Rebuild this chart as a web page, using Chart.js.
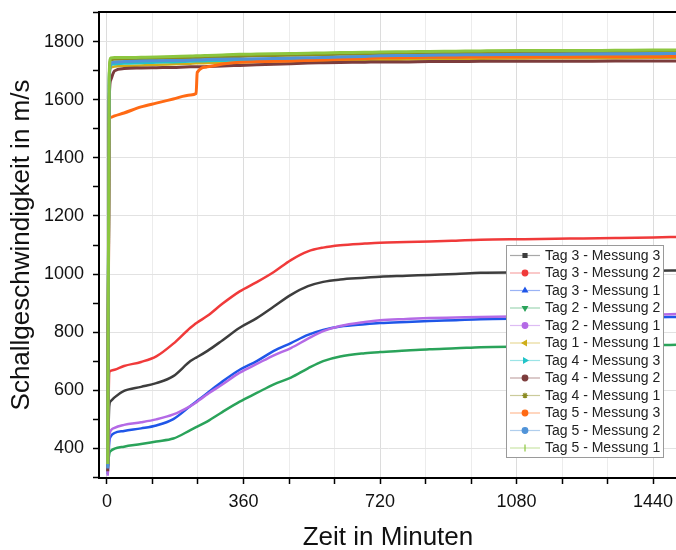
<!DOCTYPE html>
<html>
<head>
<meta charset="utf-8">
<script src="https://cdn.jsdelivr.net/npm/chart.js@4/dist/chart.umd.min.js"></script>
<style>
  html, body { margin: 0; padding: 0; background: #fff; overflow: hidden; }
  #wrap { position: relative; width: 677px; height: 550px; }
</style>
</head>
<body>
<div id="wrap"><canvas id="chart"></canvas></div>
<script>
// Zeitachse (Minuten)
const zeit = [2, 6, 10, 20, 45, 90, 130, 175, 220, 235, 238, 265, 305, 350, 395, 440, 485, 530, 570, 615, 680, 720, 790, 850, 920, 985, 1100, 1220, 1340, 1440, 1510];

// Messreihen, Schallgeschwindigkeit in m/s
const tag3Messung3 = [320, 545, 562, 575, 597, 611, 624, 648, 700, 712, 714, 735, 772, 815, 848, 888, 928, 958, 973, 981, 987, 991, 994, 997, 1000, 1004, 1005, 1007, 1009, 1011, 1012];
const tag3Messung2 = [330, 660, 667, 670, 683, 697, 716, 760, 815, 830, 833, 856, 898, 940, 972, 1007, 1048, 1078, 1091, 1099, 1105, 1108, 1110, 1112, 1115, 1118, 1120, 1122, 1124, 1126, 1128];
const tag3Messung1 = [310, 420, 440, 452, 459, 468, 478, 500, 545, 560, 563, 590, 630, 670, 700, 735, 762, 790, 807, 819, 827, 831, 835, 838, 841, 844, 846, 848, 850, 851, 852];
const tag2Messung2 = [335, 380, 390, 398, 405, 414, 423, 433, 462, 472, 474, 492, 525, 560, 590, 620, 643, 675, 700, 716, 727, 731, 736, 741, 744, 748, 750, 752, 754, 755, 756];
const tag2Messung1 = [305, 440, 460, 470, 480, 489, 499, 516, 545, 557, 560, 586, 620, 660, 690, 720, 745, 777, 803, 821, 835, 841, 845, 848, 850, 852, 854, 856, 858, 860, 862];
const tag1Messung1 = [345, 1660, 1710, 1715, 1717, 1719, 1721, 1723, 1725, 1726, 1726, 1727, 1728, 1729, 1731, 1732, 1733, 1734, 1735, 1736, 1737, 1738, 1739, 1740, 1741, 1742, 1743, 1744, 1744, 1745, 1745];
const tag4Messung3 = [335, 1680, 1722, 1724, 1726, 1728, 1730, 1731, 1733, 1734, 1734, 1735, 1736, 1737, 1738, 1739, 1740, 1741, 1742, 1743, 1745, 1746, 1747, 1748, 1749, 1750, 1751, 1752, 1753, 1754, 1755];
const tag4Messung2 = [320, 1600, 1669, 1700, 1708, 1710, 1711, 1712, 1714, 1714, 1714, 1715, 1717, 1719, 1721, 1723, 1725, 1727, 1728, 1729, 1730, 1731, 1731, 1732, 1732, 1733, 1733, 1733, 1734, 1734, 1734];
const tag4Messung1 = [340, 1670, 1738, 1740, 1741, 1742, 1743, 1744, 1746, 1746, 1746, 1747, 1749, 1750, 1752, 1753, 1754, 1755, 1756, 1757, 1758, 1759, 1760, 1761, 1762, 1763, 1764, 1765, 1765, 1766, 1766];
const tag5Messung3 = [345, 1530, 1540, 1545, 1555, 1576, 1589, 1603, 1617, 1622, 1695, 1714, 1724, 1730, 1732, 1733, 1734, 1736, 1738, 1740, 1743, 1745, 1746, 1747, 1747, 1748, 1748, 1748, 1749, 1749, 1750];
const tag5Messung2 = [330, 1650, 1725, 1730, 1732, 1734, 1735, 1736, 1737, 1738, 1738, 1739, 1740, 1741, 1742, 1743, 1744, 1745, 1746, 1748, 1750, 1752, 1753, 1754, 1755, 1756, 1757, 1758, 1759, 1760, 1760];
const tag5Messung1 = [345, 1690, 1745, 1746, 1746, 1747, 1748, 1750, 1751, 1752, 1752, 1753, 1755, 1757, 1758, 1759, 1760, 1761, 1762, 1763, 1764, 1765, 1766, 1767, 1768, 1769, 1770, 1770, 1771, 1772, 1772];

// Achsen-Ticks
const xTicks = [0, 120, 240, 360, 480, 600, 720, 840, 960, 1080, 1200, 1320, 1440];
const yTicks = [300, 400, 500, 600, 700, 800, 900, 1000, 1100, 1200, 1300, 1400, 1500, 1600, 1700, 1800, 1900];

const serien = [
    { label: 'Tag 3 - Messung 3', werte: tag3Messung3, farbe: '#3d3d3d', symbol: 'rect', rot: 0, breite: 2.5 },
    { label: 'Tag 3 - Messung 2', werte: tag3Messung2, farbe: '#f03a3a', symbol: 'circle', rot: 0, breite: 2.5 },
    { label: 'Tag 3 - Messung 1', werte: tag3Messung1, farbe: '#1f56e8', symbol: 'triangle', rot: 0, breite: 2.5 },
    { label: 'Tag 2 - Messung 2', werte: tag2Messung2, farbe: '#2aa35a', symbol: 'triangle', rot: 180, breite: 2.5 },
    { label: 'Tag 2 - Messung 1', werte: tag2Messung1, farbe: '#b46ae6', symbol: 'circle', rot: 0, breite: 2.5 },
    { label: 'Tag 1 - Messung 1', werte: tag1Messung1, farbe: '#cfae1a', symbol: 'triangle', rot: 270, breite: 2.5 },
    { label: 'Tag 4 - Messung 3', werte: tag4Messung3, farbe: '#22c4c8', symbol: 'triangle', rot: 90, breite: 3 },
    { label: 'Tag 4 - Messung 2', werte: tag4Messung2, farbe: '#7c3c3c', symbol: 'circle', rot: 0, breite: 3 },
    { label: 'Tag 4 - Messung 1', werte: tag4Messung1, farbe: '#8b8b22', symbol: 'star', rot: 0, breite: 3 },
    { label: 'Tag 5 - Messung 3', werte: tag5Messung3, farbe: '#ff6a14', symbol: 'circle', rot: 0, breite: 3 },
    { label: 'Tag 5 - Messung 2', werte: tag5Messung2, farbe: '#5093d8', symbol: 'circle', rot: 0, breite: 3 },
    { label: 'Tag 5 - Messung 1', werte: tag5Messung1, farbe: '#8cc63f', symbol: 'line', rot: 90, breite: 3 }
];

Chart.defaults.font.family = '"Liberation Sans", Arial, sans-serif';
Chart.defaults.color = '#111';

// Rahmen oben + Legende im Diagramm
const rahmenUndLegende = {
    id: 'rahmenUndLegende',
    afterDraw(chart) {
        const ctx = chart.ctx;
        const a = chart.chartArea;
        ctx.save();
        ctx.strokeStyle = '#000';
        ctx.lineWidth = 2;
        ctx.beginPath();
        ctx.moveTo(a.left - 1, a.top);
        ctx.lineTo(a.right + 2, a.top);
        ctx.stroke();

        // Legende
        const lx = 506, ly = 245, lw = 157, lh = 212;
        ctx.fillStyle = '#fff';
        ctx.fillRect(lx, ly, lw, lh);
        ctx.strokeStyle = '#9a9a9a';
        ctx.lineWidth = 1;
        ctx.strokeRect(lx + 0.5, ly + 0.5, lw, lh);
        ctx.font = '14px "Liberation Sans", Arial, sans-serif';
        ctx.textBaseline = 'middle';
        ctx.textAlign = 'left';
        serien.forEach((s, i) => {
            const y = 255.5 + i * 17.5;
            ctx.globalAlpha = 0.45;
            ctx.strokeStyle = s.farbe;
            ctx.lineWidth = 1.2;
            ctx.beginPath();
            ctx.moveTo(510, y);
            ctx.lineTo(540, y);
            ctx.stroke();
            ctx.globalAlpha = 1;
            ctx.fillStyle = s.farbe;
            ctx.strokeStyle = s.farbe;
            Chart.helpers.drawPoint(ctx, {
                pointStyle: s.symbol,
                rotation: s.rot,
                radius: s.symbol === 'line' ? 3.5 : 2.8,
                borderWidth: 1
            }, 525, y);
            ctx.fillStyle = '#222';
            ctx.fillText(s.label, 545, y + 0.5);
        });
        ctx.restore();
    }
};

const datasets = serien.map((s, i) => ({
    label: s.label,
    data: zeit.map((t, k) => ({ x: t, y: s.werte[k] })),
    borderColor: s.farbe,
    backgroundColor: s.farbe,
    borderWidth: s.breite,
    pointRadius: 0,
    cubicInterpolationMode: 'monotone',
    order: serien.length - 1 - i
}));

new Chart(document.getElementById('chart'), {
    type: 'line',
    data: { datasets: datasets },
    options: {
        responsive: true,
        maintainAspectRatio: false,
        animation: false,
        layout: { padding: { top: 12, left: 0, right: 0, bottom: 0 } },
        plugins: {
            legend: { display: false },
            tooltip: { enabled: false }
        },
        scales: {
            x: {
                type: 'linear',
                min: -21,
                max: 1503,
                afterBuildTicks: (scale) => { scale.ticks = xTicks.map(v => ({ value: v })); },
                afterFit: (scale) => {
                    scale.height = 72;
                    scale.paddingLeft = 0;
                    scale.paddingRight = 0;
                },
                ticks: {
                    autoSkip: false,
                    maxRotation: 0,
                    padding: 7,
                    font: { size: 18 },
                    callback: (v) => (v % 360 === 0 ? String(v) : '')
                },
                grid: {
                    color: (c) => (c.tick && c.tick.value % 360 === 0 ? '#dcdcdc' : '#ececec'),
                    lineWidth: 1,
                    tickColor: '#000',
                    tickLength: 6,
                    tickWidth: 1.5
                },
                border: { display: true, color: '#000', width: 2 },
                title: {
                    display: true,
                    text: 'Zeit in Minuten',
                    font: { size: 26 },
                    color: '#111',
                    padding: { top: 0, bottom: -3 }
                }
            },
            y: {
                type: 'linear',
                min: 297,
                max: 1903,
                afterBuildTicks: (scale) => { scale.ticks = yTicks.map(v => ({ value: v })); },
                afterFit: (scale) => {
                    scale.width = 99;
                    scale.paddingTop = 0;
                    scale.paddingBottom = 0;
                },
                ticks: {
                    autoSkip: false,
                    padding: 9,
                    font: { size: 18 },
                    callback: (v) => (v % 200 === 0 ? String(v) : '')
                },
                grid: {
                    color: (c) => (c.tick && c.tick.value % 200 === 0 ? '#e2e2e2' : 'rgba(0,0,0,0)'),
                    lineWidth: 1,
                    tickColor: '#000',
                    tickLength: 6,
                    tickWidth: 1.5
                },
                border: { display: true, color: '#000', width: 2 },
                title: {
                    display: true,
                    text: 'Schallgeschwindigkeit in m/s',
                    font: { size: 26 },
                    color: '#111',
                    padding: { top: 6, bottom: 0 }
                }
            }
        }
    },
    plugins: [rahmenUndLegende]
});
</script>
</body>
</html>
